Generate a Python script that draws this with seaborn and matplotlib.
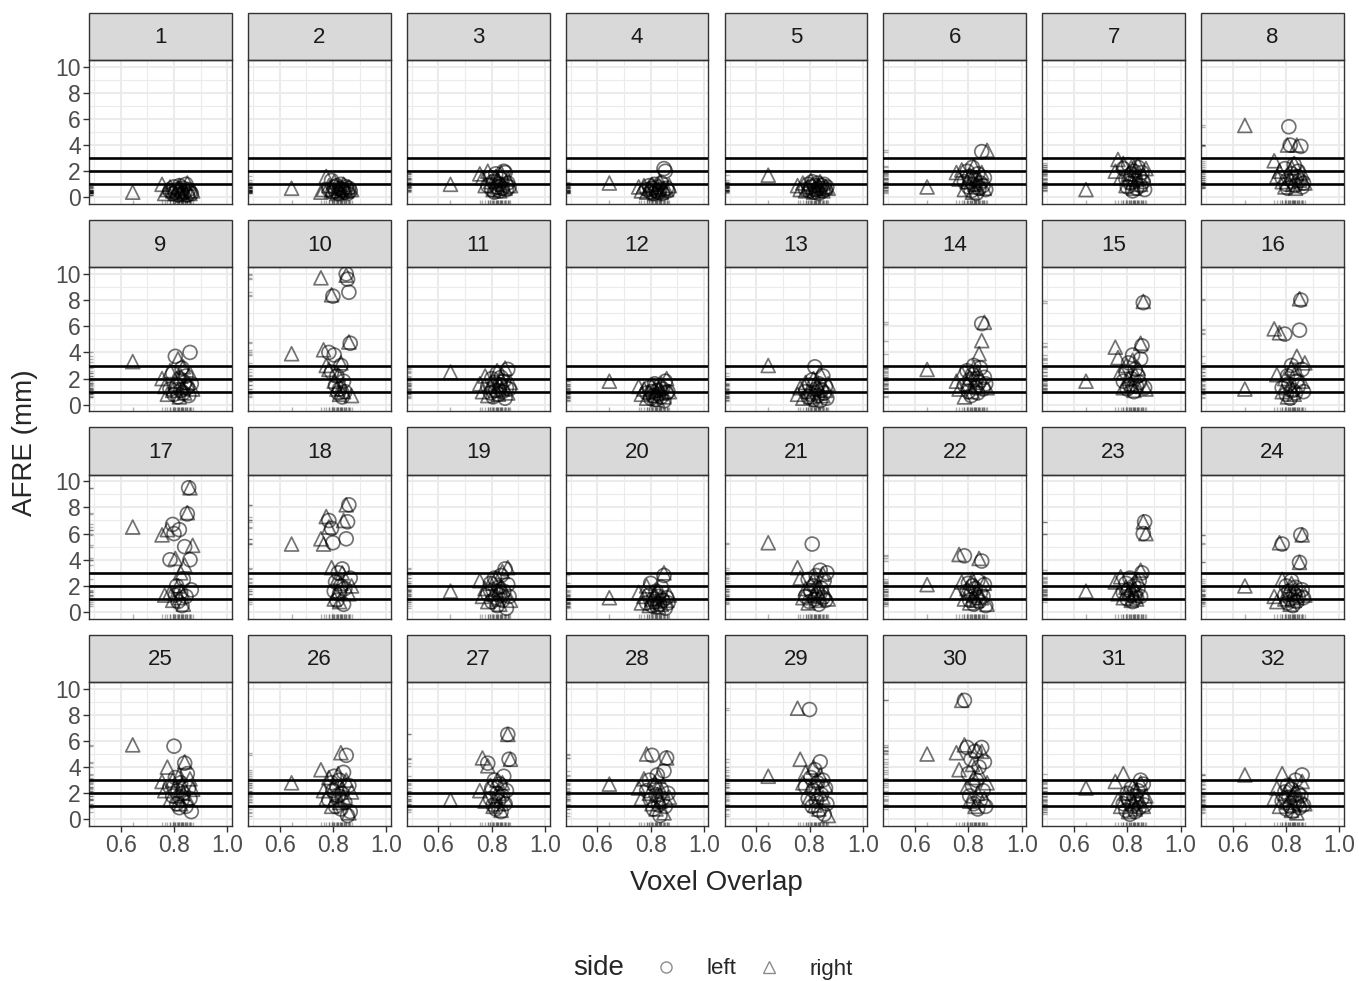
"""
AFRE against voxel overlap, one facet per fiducial (1-32), left/right side.
"""

import matplotlib.pyplot as plt
import pandas as pd
import seaborn as sns
from matplotlib.lines import Line2D
from matplotlib.patches import Rectangle

# ---------------------------------------------------------------- data
FIDUCIALS = list(range(1, 33))

# voxel overlap per subject (same subjects in every facet)
X_LEFT = [0.785, 0.795, 0.80, 0.805, 0.81, 0.815, 0.82, 0.825,
          0.83, 0.835, 0.84, 0.845, 0.85, 0.855, 0.86, 0.865]
X_RIGHT = [0.645, 0.755, 0.765, 0.775, 0.785, 0.795, 0.805, 0.815,
           0.82, 0.825, 0.83, 0.835, 0.84, 0.85, 0.86, 0.87]

# AFRE (mm) per fiducial, left side
Y_LEFT = [
    [0.5, 0.3, 0.8, 0.4, 0.6, 0.2, 0.9, 0.5, 0.3, 0.7, 0.4, 1.0, 0.2, 0.6, 0.4, 0.3],
    [0.6, 1.3, 0.4, 0.8, 0.5, 0.9, 0.3, 0.7, 1.0, 0.5, 0.6, 0.4, 0.8, 0.3, 0.7, 0.5],
    [0.9, 1.5, 0.6, 1.2, 0.4, 1.8, 0.8, 1.0, 0.5, 1.4, 0.7, 2.0, 1.9, 0.6, 1.1, 0.8],
    [0.6, 0.9, 0.4, 0.7, 0.3, 1.0, 0.5, 0.8, 0.4, 0.6, 1.1, 0.3, 2.2, 2.0, 0.7, 0.5],
    [0.6, 1.0, 0.5, 0.8, 1.2, 0.4, 0.9, 0.6, 1.1, 0.3, 0.7, 0.9, 0.5, 1.0, 0.6, 0.8],
    [1.2, 2.0, 0.8, 1.6, 0.5, 2.3, 1.0, 1.4, 0.3, 1.8, 0.7, 1.1, 3.5, 0.9, 1.5, 0.6],
    [2.2, 1.4, 0.8, 2.5, 1.1, 1.8, 0.5, 2.0, 1.3, 0.7, 2.3, 1.6, 0.9, 1.9, 1.2, 0.6],
    [1.5, 2.2, 1.0, 0.7, 5.4, 4.0, 1.8, 1.2, 2.5, 0.9, 1.6, 2.0, 1.3, 3.9, 0.8, 1.1],
    [1.2, 2.4, 0.8, 3.7, 1.5, 0.6, 2.0, 1.1, 2.8, 0.9, 1.7, 2.2, 1.3, 0.7, 4.0, 1.6],
    [4.0, 2.5, 8.3, 3.8, 1.5, 2.2, 0.9, 1.2, 3.0, 0.6, 1.8, 1.0, 10.0, 9.6, 8.6, 4.7],
    [1.4, 0.9, 2.0, 0.6, 1.7, 1.1, 2.4, 0.8, 1.5, 2.1, 1.0, 1.8, 0.5, 1.3, 2.7, 1.2],
    [0.9, 1.3, 0.5, 1.0, 0.7, 1.6, 0.4, 1.1, 0.8, 1.4, 0.6, 1.2, 0.3, 1.8, 0.9, 1.0],
    [1.0, 0.6, 1.5, 0.8, 1.9, 0.4, 2.9, 1.2, 0.7, 1.6, 0.3, 1.1, 2.2, 0.9, 1.4, 0.5],
    [1.5, 2.6, 1.0, 1.9, 0.7, 2.3, 3.0, 1.3, 2.0, 0.9, 1.7, 2.8, 6.2, 1.2, 2.1, 1.6],
    [1.8, 2.5, 1.2, 3.2, 1.5, 2.0, 3.8, 1.0, 2.7, 1.4, 2.2, 1.7, 3.5, 4.5, 7.8, 1.3],
    [1.3, 5.4, 0.8, 2.2, 1.6, 0.5, 3.0, 1.1, 2.5, 0.9, 1.8, 1.4, 5.7, 8.0, 2.7, 1.0],
    [4.0, 6.7, 6.0, 1.3, 2.0, 0.8, 6.3, 1.5, 0.5, 2.5, 5.0, 1.2, 7.5, 9.5, 4.0, 1.7],
    [7.0, 6.4, 5.3, 1.6, 2.3, 0.9, 3.0, 1.4, 2.0, 3.3, 0.6, 1.8, 5.6, 6.9, 8.2, 2.6],
    [1.4, 2.2, 0.8, 1.7, 2.6, 1.1, 0.5, 1.9, 1.3, 2.8, 0.9, 1.6, 3.3, 0.3, 2.1, 1.2],
    [0.7, 1.3, 2.2, 0.5, 1.0, 0.8, 1.6, 0.4, 1.2, 0.6, 1.9, 0.9, 2.8, 0.3, 1.1, 0.7],
    [1.2, 2.5, 0.8, 1.6, 5.2, 2.0, 1.0, 2.8, 1.4, 0.6, 3.2, 1.8, 1.1, 2.4, 0.9, 3.0],
    [4.3, 1.6, 2.2, 0.9, 1.4, 2.0, 0.6, 1.8, 1.1, 2.4, 0.8, 1.5, 3.9, 1.2, 2.1, 0.5],
    [1.5, 2.2, 1.0, 1.7, 2.6, 1.3, 0.8, 2.0, 1.4, 1.1, 1.8, 2.4, 1.2, 3.0, 6.0, 6.9],
    [5.2, 1.3, 2.0, 0.7, 1.6, 1.0, 2.4, 0.5, 1.4, 1.9, 0.8, 1.2, 3.8, 5.9, 1.7, 1.1],
    [2.5, 1.8, 5.6, 3.2, 1.2, 2.2, 0.9, 2.8, 1.5, 2.0, 4.3, 1.0, 3.5, 2.4, 1.6, 0.6],
    [1.5, 2.8, 2.2, 3.3, 1.0, 2.5, 1.8, 3.0, 0.8, 2.0, 3.6, 1.3, 4.9, 0.3, 2.6, 0.6],
    [4.3, 1.6, 2.4, 1.1, 3.0, 0.8, 2.0, 1.4, 2.7, 0.6, 1.8, 3.3, 1.2, 2.2, 6.5, 4.6],
    [2.2, 3.0, 1.5, 4.9, 0.8, 2.6, 1.9, 3.4, 1.1, 0.3, 2.3, 1.6, 3.7, 1.0, 4.7, 2.0],
    [2.5, 1.6, 8.4, 3.2, 1.0, 2.2, 3.8, 1.4, 2.8, 0.7, 4.4, 1.9, 3.0, 0.4, 2.4, 1.2],
    [9.1, 5.5, 3.5, 1.8, 4.6, 2.6, 1.2, 5.2, 3.0, 0.8, 4.0, 1.5, 5.5, 2.2, 4.4, 1.0],
    [1.2, 0.7, 2.0, 1.5, 0.4, 2.4, 1.0, 1.8, 0.6, 1.3, 2.2, 0.9, 3.0, 1.6, 2.7, 1.1],
    [1.4, 2.1, 0.8, 2.6, 1.7, 1.0, 2.3, 0.6, 1.5, 3.0, 1.2, 2.0, 0.9, 1.8, 3.4, 1.1],
]

# AFRE (mm) per fiducial, right side
Y_RIGHT = [
    [0.4, 1.0, 0.3, 0.6, 0.8, 0.5, 0.3, 0.7, 0.9, 0.4, 0.6, 0.2, 0.5, 1.1, 0.3, 0.5],
    [0.7, 0.4, 0.6, 1.6, 0.9, 0.5, 1.2, 0.3, 0.7, 0.8, 0.4, 0.6, 1.0, 0.5, 0.8, 0.6],
    [1.0, 1.8, 1.5, 0.9, 2.0, 1.2, 0.6, 1.6, 0.8, 1.3, 0.5, 1.9, 1.0, 0.7, 1.4, 0.9],
    [1.1, 0.8, 0.5, 0.9, 0.4, 0.7, 1.0, 0.3, 0.6, 0.8, 0.5, 1.2, 0.4, 0.7, 0.6, 0.9],
    [1.7, 0.9, 0.6, 1.1, 0.5, 0.8, 1.3, 0.4, 0.7, 1.0, 0.6, 0.9, 1.2, 0.5, 0.8, 0.7],
    [0.8, 1.9, 1.4, 2.1, 0.6, 1.2, 1.7, 0.4, 2.4, 1.0, 1.5, 0.8, 1.3, 1.9, 0.7, 3.6],
    [0.6, 2.0, 2.9, 1.5, 2.6, 0.9, 1.8, 2.3, 1.2, 0.7, 2.1, 1.4, 2.5, 1.0, 1.7, 2.2],
    [5.5, 2.8, 1.6, 2.0, 1.2, 0.8, 4.0, 1.5, 2.3, 1.0, 2.6, 0.7, 4.0, 1.3, 1.9, 1.1],
    [3.3, 2.0, 1.4, 0.8, 2.6, 1.1, 1.8, 3.5, 0.6, 2.2, 1.3, 2.9, 0.9, 1.7, 2.4, 1.2],
    [3.9, 9.7, 4.2, 3.0, 2.7, 8.4, 1.8, 1.2, 2.3, 0.8, 3.2, 1.5, 1.0, 9.9, 4.8, 0.7],
    [2.5, 1.6, 1.0, 2.2, 0.7, 1.4, 1.9, 1.1, 2.6, 0.8, 1.5, 2.0, 1.2, 2.8, 0.9, 1.7],
    [1.8, 1.4, 0.8, 1.2, 0.5, 1.0, 1.5, 0.7, 1.1, 0.4, 1.3, 0.9, 1.6, 0.6, 2.0, 1.0],
    [3.0, 0.8, 1.3, 0.5, 1.7, 1.0, 0.6, 2.0, 1.2, 0.4, 1.5, 0.9, 2.4, 0.7, 1.1, 1.6],
    [2.7, 1.8, 1.2, 2.4, 0.6, 1.6, 2.1, 1.0, 2.8, 1.4, 1.9, 2.5, 3.9, 4.9, 6.3, 1.3],
    [1.8, 4.4, 3.6, 2.5, 1.3, 3.0, 2.0, 1.6, 3.4, 1.1, 2.3, 1.5, 2.8, 4.7, 7.9, 1.2],
    [1.2, 5.8, 2.3, 5.5, 1.0, 2.0, 0.6, 1.5, 2.8, 1.2, 0.8, 2.5, 3.7, 8.1, 1.8, 3.2],
    [6.5, 5.9, 1.3, 6.3, 1.5, 0.9, 4.1, 2.0, 1.1, 3.0, 1.6, 0.6, 3.6, 7.6, 9.5, 5.1],
    [5.2, 5.6, 5.2, 7.3, 6.5, 3.4, 1.0, 2.5, 1.6, 0.8, 2.2, 3.0, 7.0, 8.2, 1.4, 2.0],
    [1.6, 2.4, 1.2, 1.8, 0.8, 2.2, 1.4, 2.6, 1.0, 1.7, 0.6, 2.0, 3.1, 1.5, 3.4, 0.9],
    [1.1, 1.5, 0.7, 1.2, 2.0, 0.5, 1.0, 1.4, 0.8, 1.7, 0.4, 1.1, 0.6, 3.0, 0.9, 1.3],
    [5.3, 3.4, 2.6, 1.1, 1.8, 0.7, 2.2, 1.3, 2.7, 0.9, 1.6, 2.0, 1.2, 2.9, 1.5, 1.0],
    [2.1, 1.5, 4.4, 2.3, 1.0, 1.8, 0.7, 2.5, 1.3, 2.0, 0.9, 1.6, 4.1, 1.1, 2.2, 0.6],
    [1.6, 2.3, 1.4, 2.7, 1.1, 1.9, 1.5, 0.9, 2.1, 1.3, 1.7, 1.0, 2.5, 3.2, 6.9, 6.0],
    [2.0, 1.2, 0.8, 5.3, 2.5, 1.0, 1.6, 0.6, 2.2, 1.4, 0.9, 1.8, 1.1, 3.8, 5.9, 1.3],
    [5.7, 2.9, 2.2, 4.0, 1.5, 3.0, 2.5, 1.8, 3.4, 1.2, 2.7, 2.0, 4.4, 1.6, 3.1, 2.3],
    [2.8, 3.8, 2.2, 1.6, 3.2, 1.0, 2.6, 1.9, 3.5, 1.3, 5.1, 2.4, 1.7, 3.0, 0.5, 2.1],
    [1.5, 2.2, 4.7, 1.4, 4.1, 2.6, 1.0, 1.8, 3.0, 1.2, 2.0, 0.7, 2.8, 1.6, 6.5, 4.6],
    [2.7, 2.4, 1.6, 3.1, 5.0, 2.0, 1.2, 2.8, 0.8, 1.9, 3.3, 1.4, 2.2, 0.5, 4.7, 1.7],
    [3.3, 8.5, 4.6, 2.8, 3.6, 1.5, 2.5, 4.0, 1.1, 3.0, 2.0, 0.8, 3.4, 1.7, 2.6, 0.3],
    [5.0, 5.1, 3.8, 9.1, 5.7, 2.5, 1.4, 4.2, 3.2, 1.0, 5.3, 2.0, 3.6, 5.2, 1.6, 2.8],
    [2.4, 2.9, 1.5, 1.0, 3.5, 2.0, 0.6, 1.7, 2.5, 1.2, 0.8, 2.2, 1.4, 2.8, 1.0, 1.8],
    [3.4, 1.6, 2.4, 1.0, 3.5, 2.0, 1.3, 2.7, 0.7, 1.9, 1.1, 2.3, 0.5, 1.5, 2.9, 1.2],
]

THRESHOLDS = [1, 2, 3]
X_TICKS = [0.6, 0.8, 1.0]
X_MINOR = [0.5, 0.7, 0.9]
Y_TICKS = [0, 2, 4, 6, 8, 10]
Y_MINOR = [1, 3, 5, 7, 9]

rows = []
for fid, yl, yr in zip(FIDUCIALS, Y_LEFT, Y_RIGHT):
    rows += [(fid, "left", x, y) for x, y in zip(X_LEFT, yl)]
    rows += [(fid, "right", x, y) for x, y in zip(X_RIGHT, yr)]
df = pd.DataFrame(rows, columns=["afid", "side", "overlap", "afre"])

# ---------------------------------------------------------------- style
sns.set_style("white")
plt.rcParams["font.family"] = ["Liberation Sans", "DejaVu Sans"]

GRID = "#EBEBEB"
DARK = "#333333"
MARKERS = {"left": "o", "right": "^"}

W, H = 1359, 981
fig = plt.figure(figsize=(W / 100, H / 100), dpi=100)
axes = fig.subplots(4, 8, sharex=True, sharey=True)
panel_w, panel_h = 142.5, 144
fig.subplots_adjust(left=89 / W, right=1344 / W, top=1 - 60 / H,
                    bottom=1 - 826 / H, wspace=16 / panel_w,
                    hspace=63.4 / panel_h)
strip_h = 47.5 / panel_h

for i, (ax, fid) in enumerate(zip(axes.flat, FIDUCIALS)):
    row, col = divmod(i, 8)
    sub = df[df["afid"] == fid]

    sns.scatterplot(data=sub, x="overlap", y="afre", style="side",
                    markers=MARKERS, s=100, fc="none", ec="black",
                    linewidth=1.25, alpha=0.55, legend=False, ax=ax, zorder=3)
    for t in THRESHOLDS:
        ax.axhline(t, color="black", lw=1.9, zorder=4)
    sns.rugplot(data=sub, x="overlap", height=0.03, color="black",
                lw=0.5, alpha=0.3, ax=ax)
    sns.rugplot(data=sub, y="afre", height=0.03, color="black",
                lw=0.5, alpha=0.3, ax=ax)

    ax.set_xlim(0.481, 1.017)
    ax.set_ylim(-0.5, 10.5)
    ax.set_xticks(X_TICKS)
    ax.set_xticks(X_MINOR, minor=True)
    ax.set_yticks(Y_TICKS)
    ax.set_yticks(Y_MINOR, minor=True)
    ax.set_xticklabels(["0.6", "0.8", "1.0"])
    ax.grid(which="major", color=GRID, lw=1.5)
    ax.grid(which="minor", color=GRID, lw=0.8)
    ax.set_axisbelow(True)
    ax.set_xlabel("")
    ax.set_ylabel("")

    for sp in ax.spines.values():
        sp.set_color(DARK)
        sp.set_linewidth(1.0)
    ax.tick_params(which="minor", length=0)
    ax.tick_params(which="major", length=4, width=1.0, color=DARK,
                   labelcolor="#4D4D4D", labelsize=16.5, pad=2,
                   left=(col == 0), bottom=(row == 3),
                   labelleft=(col == 0), labelbottom=(row == 3))

    # facet strip
    ax.add_patch(Rectangle((0, 1), 1, strip_h, transform=ax.transAxes,
                           facecolor="#D9D9D9", edgecolor=DARK, lw=1.0,
                           clip_on=False))
    ax.text(0.5, 1 + strip_h / 2 - 0.01, str(fid), transform=ax.transAxes,
            ha="center", va="center", fontsize=16, color="#1A1A1A")

fig.text((89 + 1344) / 2 / W, 1 - 883 / H, "Voxel Overlap",
         ha="center", va="center", fontsize=20)
fig.text(25 / W, 1 - 443 / H, "AFRE (mm)", rotation=90,
         ha="center", va="center", fontsize=20)

# legend along the bottom
fig.text(573 / W, 1 - 968 / H, "side", ha="left", va="center", fontsize=20)
handles = [Line2D([], [], ls="", marker=MARKERS[k], mfc="none", mec="black",
                  alpha=0.45, ms=8, mew=1.0) for k in ["left", "right"]]
fig.legend(handles, ["left", "right"], loc="center left",
           bbox_to_anchor=(655 / W, 1 - 969 / H), ncol=2, frameon=False,
           fontsize=16, handletextpad=1.3, columnspacing=1.0,
           handlelength=1.0, borderaxespad=0, borderpad=0)

fig.savefig("out.png", dpi=100)
